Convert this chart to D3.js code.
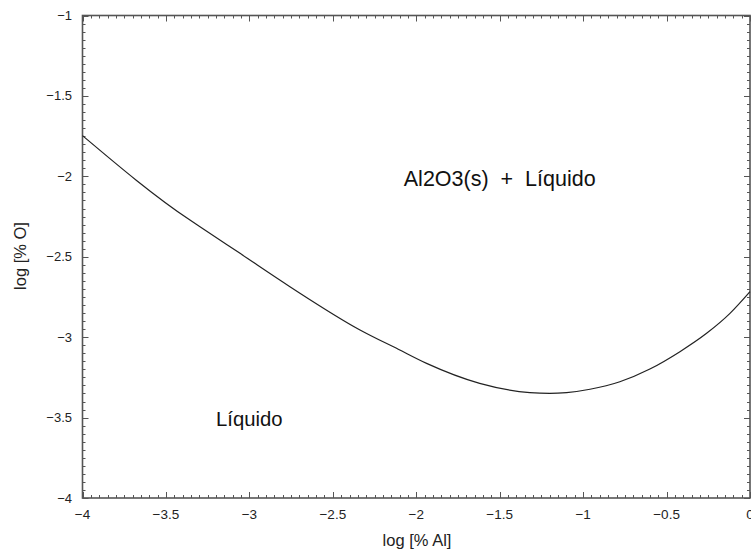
<!DOCTYPE html>
<html>
<head>
<meta charset="utf-8">
<script src="https://cdn.jsdelivr.net/npm/d3@7"></script>
<style>
  html, body { margin: 0; padding: 0; background: #fff; }
  svg { display: block; font-family: "Liberation Sans", Arial, sans-serif; }
</style>
</head>
<body>
<svg id="chart" width="751" height="549"></svg>
<script>
// Saturation boundary of Al2O3(s) in liquid: log[%O] vs log[%Al]
const logAl = [-4, -3.356, -3.296, -3.056, -2.757, -2.337, -2.108, -1.938, -1.62, -1.319, -1.2, -1.099, -0.959, -0.78, -0.6, -0.42, -0.26, -0.12, 0];
const logO  = [-1.747, -2.272, -2.313, -2.479, -2.686, -2.955, -3.075, -3.163, -3.287, -3.345, -3.35, -3.345, -3.324, -3.277, -3.198, -3.09, -2.976, -2.852, -2.717];

const xTicks = [-4, -3.5, -3, -2.5, -2, -1.5, -1, -0.5, 0];
const yTicks = [-1, -1.5, -2, -2.5, -3, -3.5, -4];

const regionLabels = [
  { text: "Al2O3(s)  +  Líquido", x: -1.5, y: -2.06 },
  { text: "Líquido", x: -3.0, y: -3.552 }
];

const svg = d3.select("#chart");
const plotLeft = 82.5, plotRight = 750, plotTop = 15.5, plotBottom = 498;

const x = d3.scaleLinear().domain([-4, 0]).range([plotLeft, plotRight]);
const y = d3.scaleLinear().domain([-4, -1]).range([plotBottom, plotTop]);

const axisColor = "#555";
const textColor = "#222";

// minor ticks every 0.05
const xMinor = d3.range(0, 81).map(i => -4 + i * 0.05);
const yMinor = d3.range(0, 61).map(i => -4 + i * 0.05);
const isMajor = v => Math.abs(v * 2 - Math.round(v * 2)) < 1e-6;

const ticks = svg.append("g").attr("stroke", axisColor).attr("stroke-width", 1);
xMinor.forEach(v => {
  const len = isMajor(v) ? 6 : 3;
  const px = Math.round(x(v)) + 0.5;
  ticks.append("line").attr("x1", px).attr("x2", px).attr("y1", plotBottom).attr("y2", plotBottom - len);
  ticks.append("line").attr("x1", px).attr("x2", px).attr("y1", plotTop).attr("y2", plotTop + len);
});
yMinor.forEach(v => {
  const len = isMajor(v) ? 6 : 3;
  const py = Math.round(y(v)) + 0.5;
  ticks.append("line").attr("y1", py).attr("y2", py).attr("x1", plotLeft).attr("x2", plotLeft + len);
  ticks.append("line").attr("y1", py).attr("y2", py).attr("x1", plotRight).attr("x2", plotRight - len);
});

// frame
svg.append("rect")
  .attr("x", plotLeft).attr("y", plotTop)
  .attr("width", plotRight - plotLeft).attr("height", plotBottom - plotTop)
  .attr("fill", "none").attr("stroke", axisColor).attr("stroke-width", 1.6);

// tick labels
svg.append("g").selectAll("text").data(xTicks).join("text")
  .attr("x", d => x(d)).attr("y", 519)
  .attr("text-anchor", "middle")
  .attr("font-size", 13.5).attr("fill", textColor)
  .text(d => d3.format("")(d));

svg.append("g").selectAll("text").data(yTicks).join("text")
  .attr("x", 72).attr("y", d => y(d) + 4.5)
  .attr("text-anchor", "end")
  .attr("font-size", 13).attr("fill", textColor)
  .text(d => d3.format("")(d));

// axis titles
svg.append("text")
  .attr("x", 417).attr("y", 546)
  .attr("text-anchor", "middle")
  .attr("font-size", 16.5).attr("fill", textColor)
  .text("log [% Al]");

svg.append("text")
  .attr("transform", "translate(26,256) rotate(-90)")
  .attr("text-anchor", "middle")
  .attr("font-size", 16.5).attr("fill", textColor)
  .text("log [% O]");

// boundary curve
const pts = logAl.map((a, i) => [a, logO[i]]);
svg.append("path")
  .datum(pts)
  .attr("fill", "none")
  .attr("stroke", "#222")
  .attr("stroke-width", 1.2)
  .attr("d", d3.line().x(d => x(d[0])).y(d => y(d[1])).curve(d3.curveMonotoneX));

// region labels
svg.append("g").selectAll("text").data(regionLabels).join("text")
  .attr("x", d => x(d.x)).attr("y", d => y(d.y))
  .attr("text-anchor", "middle")
  .attr("font-size", (d, i) => i === 0 ? 21.5 : 20.3).attr("fill", "#111")
  .attr("xml:space", "preserve")
  .style("white-space", "pre")
  .text(d => d.text);
</script>
</body>
</html>
